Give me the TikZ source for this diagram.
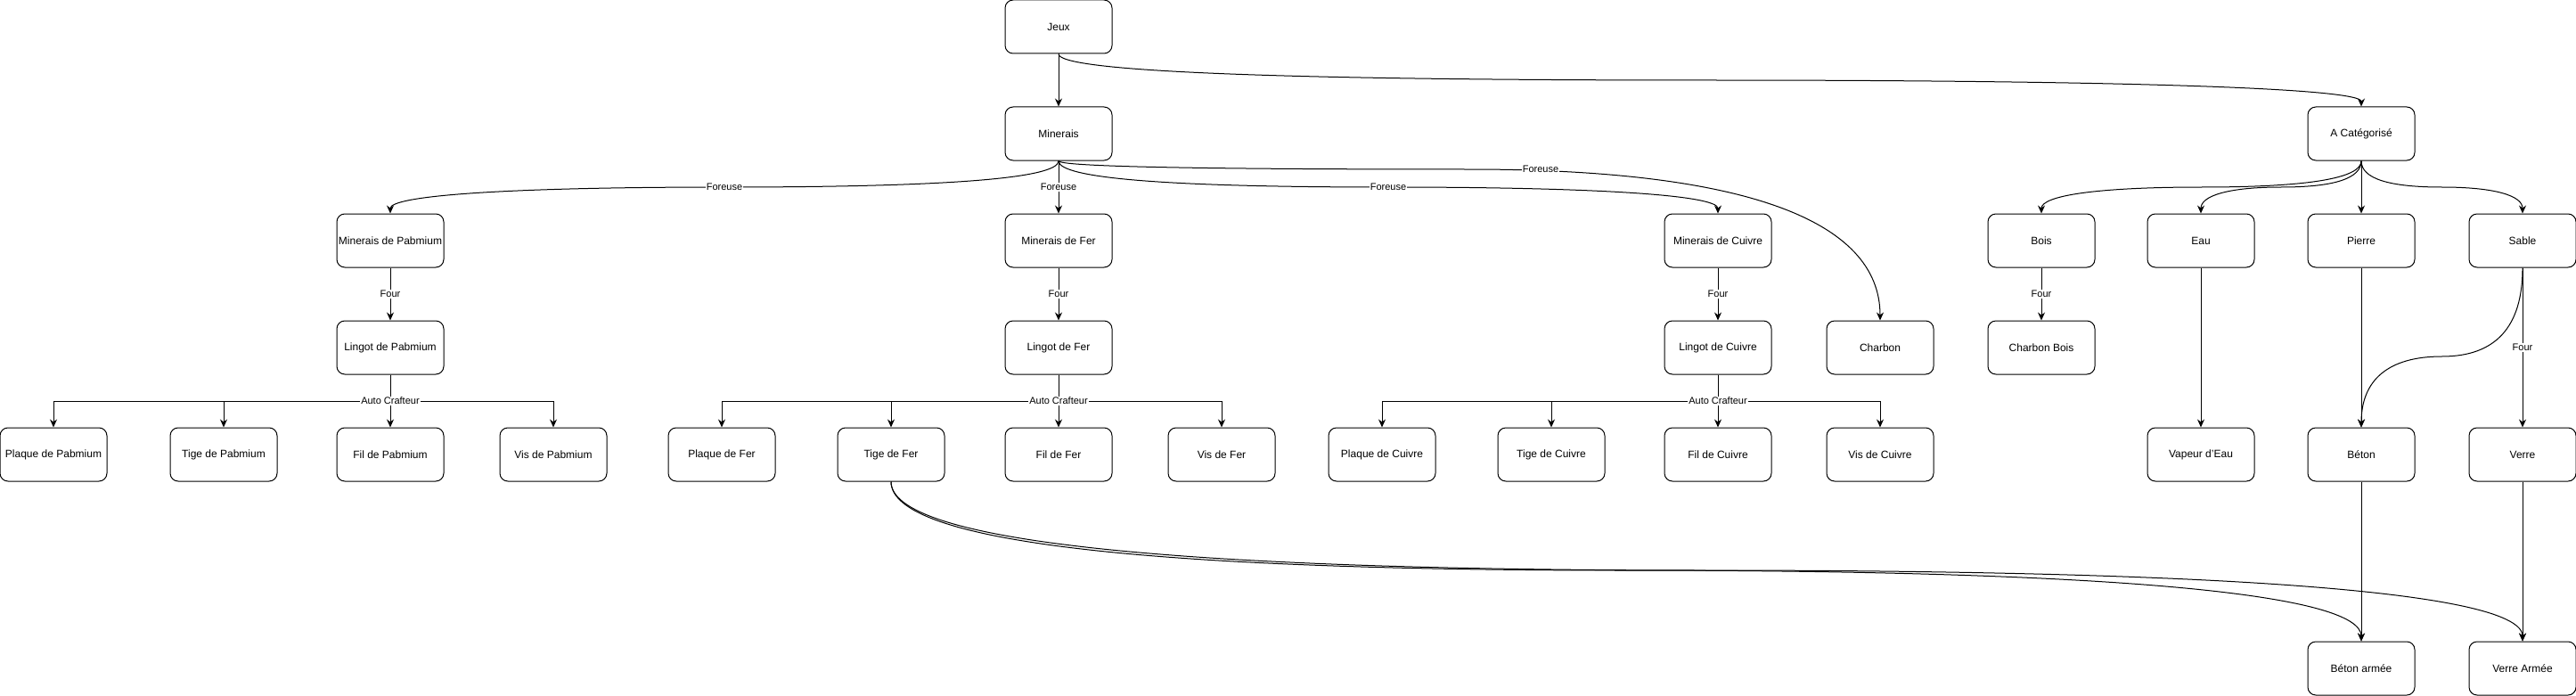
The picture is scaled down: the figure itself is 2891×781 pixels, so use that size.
\documentclass[tikz,border=0pt]{standalone}
\usepackage{fontspec}
\setmainfont{Liberation Sans}
\usetikzlibrary{arrows.meta,calc}
\tikzset{
  box/.style={draw, line width=1pt, rounded corners=9pt, minimum width=120pt, minimum height=60pt, inner sep=0pt, font=\fontsize{12}{14}\selectfont},
  arr/.style={-{Stealth[length=9pt,width=8pt,inset=3pt]}, line width=1pt},
  lbl/.style={fill=white, inner sep=1pt, font=\fontsize{11}{13}\selectfont},
}
\newcommand\myedge[3]{%
  \path (#1.south |- 0,#3) coordinate (b1) (#2.north |- 0,#3) coordinate (b2);
  \path ($(b1)!0.5!(b2)$) coordinate (mm);
  \draw[arr] (#1.south) .. controls ($(#1.south)!2/3!(b1)$) and ($(mm)!2/3!(b1)$) .. (mm)
    .. controls ($(mm)!2/3!(b2)$) and ($(#2.north)!2/3!(b2)$) .. (#2.north);}
\begin{document}
\begin{tikzpicture}[x=1pt,y=-1pt]
\fill[white] (0,0) rectangle (2891,781);
\useasboundingbox (0,0) rectangle (2891,781);
% row 0
\node[box] (jeux) at (1188,30) {Jeux};
% row 1
\node[box] (min) at (1188,150) {Minerais};
\node[box] (acat) at (2650,150) {A Catégorisé};
% row 2
\node[box] (mpab) at (438,270) {Minerais de Pabmium};
\node[box] (mfer) at (1188,270) {Minerais de Fer};
\node[box] (mcui) at (1928,270) {Minerais de Cuivre};
\node[box] (bois) at (2291,270) {Bois};
\node[box] (eau) at (2470,270) {Eau};
\node[box] (pierre) at (2650,270) {Pierre};
\node[box] (sable) at (2831,270) {Sable};
% row 3
\node[box] (lpab) at (438,390) {Lingot de Pabmium};
\node[box] (lfer) at (1188,390) {Lingot de Fer};
\node[box] (lcui) at (1928,390) {Lingot de Cuivre};
\node[box] (charbon) at (2110,390) {Charbon};
\node[box] (cbois) at (2291,390) {Charbon Bois};
% row 4
\node[box] (ppab) at (60,510) {Plaque de Pabmium};
\node[box] (tpab) at (251,510) {Tige de Pabmium};
\node[box] (fpab) at (438,510) {Fil de Pabmium};
\node[box] (vpab) at (621,510) {Vis de Pabmium};
\node[box] (pfer) at (810,510) {Plaque de Fer};
\node[box] (tfer) at (1000,510) {Tige de Fer};
\node[box] (ffer) at (1188,510) {Fil de Fer};
\node[box] (vfer) at (1371,510) {Vis de Fer};
\node[box] (pcui) at (1551,510) {Plaque de Cuivre};
\node[box] (tcui) at (1741,510) {Tige de Cuivre};
\node[box] (fcui) at (1928,510) {Fil de Cuivre};
\node[box] (vcui) at (2110,510) {Vis de Cuivre};
\node[box] (vapeur) at (2470,510) {Vapeur d'Eau};
\node[box] (beton) at (2650,510) {Béton};
\node[box] (verre) at (2831,510) {Verre};
% row 5
\node[box] (barm) at (2650,750) {Béton armée};
\node[box] (varm) at (2831,750) {Verre Armée};

% curved edges
\myedge{jeux}{acat}{90}
\myedge{min}{mpab}{210}
\myedge{min}{mcui}{210}
\myedge{min}{charbon}{190}
\myedge{acat}{bois}{210}
\myedge{acat}{eau}{210}
\myedge{acat}{sable}{210}
\myedge{sable}{beton}{400}
\myedge{tfer}{barm}{640}
\myedge{tfer}{varm}{640}
\node[lbl] (lf1) at (813,210) {Foreuse};
\node[lbl] (lf2) at (1558,210) {Foreuse};
\node[lbl] (lf3) at (1729,190) {Foreuse};

% straight edges
\draw[arr] (jeux) -- (min);
\draw[arr] (acat) -- (pierre);
\draw[arr] (eau) -- (vapeur);
\draw[arr] (pierre) -- (beton);
\draw[arr] (beton) -- (barm);
\draw[arr] (verre) -- (varm);
\draw[arr] (min) -- node[lbl] {Foreuse} (mfer);
\draw[arr] (mpab) -- node[lbl] {Four} (lpab);
\draw[arr] (mfer) -- node[lbl] {Four} (lfer);
\draw[arr] (mcui) -- node[lbl] {Four} (lcui);
\draw[arr] (bois) -- node[lbl] {Four} (cbois);
\draw[arr] (sable) -- node[lbl] {Four} (verre);

% auto crafteur
\draw[arr] (lpab.south) -- ++(0,30) -| (ppab.north);
\draw[arr] (lpab.south) -- ++(0,30) -| (tpab.north);
\draw[arr] (lpab.south) -- ++(0,30) -| (vpab.north);
\draw[arr] (lfer.south) -- ++(0,30) -| (pfer.north);
\draw[arr] (lfer.south) -- ++(0,30) -| (tfer.north);
\draw[arr] (lfer.south) -- ++(0,30) -| (vfer.north);
\draw[arr] (lcui.south) -- ++(0,30) -| (pcui.north);
\draw[arr] (lcui.south) -- ++(0,30) -| (tcui.north);
\draw[arr] (lcui.south) -- ++(0,30) -| (vcui.north);
\draw[arr] (lpab) -- node[lbl] {Auto Crafteur} (fpab);
\draw[arr] (lfer) -- node[lbl] {Auto Crafteur} (ffer);
\draw[arr] (lcui) -- node[lbl] {Auto Crafteur} (fcui);
\end{tikzpicture}
\end{document}
